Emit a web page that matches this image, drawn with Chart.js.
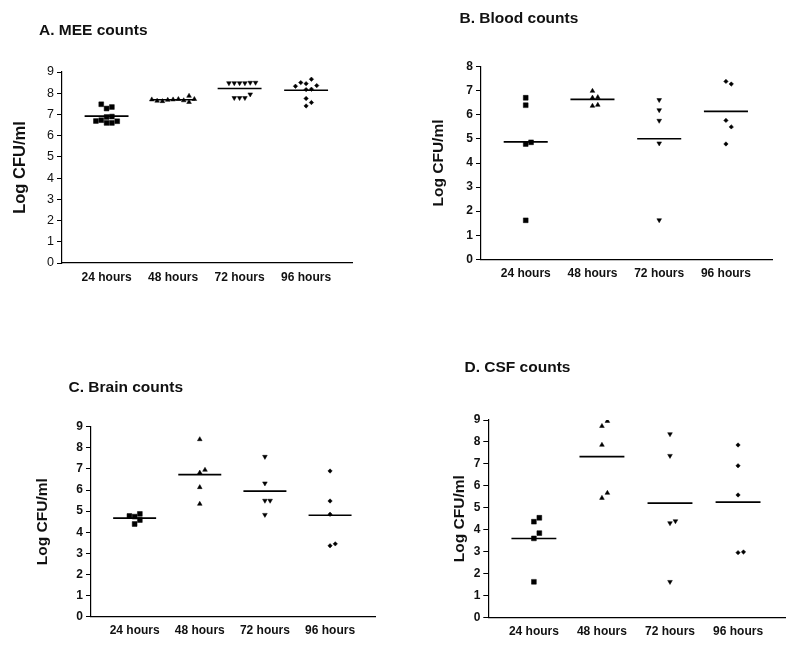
<!DOCTYPE html>
<html lang="en">
<head>
    <meta charset="UTF-8">
    <title>Log CFU/ml counts</title>
    <script src="https://cdn.jsdelivr.net/npm/chart.js"></script>
    <style>
        html, body { margin: 0; padding: 0; background: #fff; }
        .stage { position: relative; width: 800px; height: 645px; }
        .stage canvas { position: absolute; left: 0; top: 0; }
    </style>
</head>
<body>
    <div class="stage">
        <canvas id="meeChart" width="800" height="645"></canvas>
        <canvas id="bloodChart" width="800" height="645"></canvas>
        <canvas id="brainChart" width="800" height="645"></canvas>
        <canvas id="csfChart" width="800" height="645"></canvas>
    </div>

    <script>
        // Data (log CFU/ml per animal)
        const categories = ['24 hours', '48 hours', '72 hours', '96 hours'];

        const meeValues = [
            [7.28, 6.88, 6.60, 7.35, 6.60, 7.48, 6.90, 6.73, 6.68, 6.69],
            [7.70, 7.72, 7.68, 7.66, 7.62, 7.58, 7.64, 7.87, 7.72, 7.70],
            [8.48, 8.48, 8.48, 8.50, 8.48, 8.50, 7.78, 7.78, 7.78, 7.95],
            [8.45, 8.17, 7.75, 7.40, 8.66, 8.19, 7.56, 8.50, 8.36, 8.33]
        ];
        const bloodValues = [
            [4.79, 4.86, 6.71, 6.40, 1.62],
            [6.71, 6.99, 6.73, 6.37, 6.41],
            [6.62, 6.20, 5.76, 4.82, 1.63],
            [7.39, 7.28, 5.77, 5.50, 4.79]
        ];
        const brainValues = [
            [4.74, 4.87, 4.77, 4.58, 4.39],
            [6.82, 6.95, 8.40, 6.13, 5.34],
            [7.58, 6.32, 5.50, 5.50, 4.83],
            [6.90, 5.48, 4.85, 3.36, 3.45]
        ];
        const csfValues = [
            [4.36, 4.54, 3.60, 3.84, 1.62],
            [8.72, 8.95, 7.86, 5.44, 5.67],
            [8.36, 7.37, 4.30, 4.39, 1.62],
            [7.86, 6.91, 5.58, 2.95, 2.98]
        ];

        const panelTitles = ['A. MEE counts', 'B. Blood counts', 'C. Brain counts', 'D. CSF counts'];
        const yMax = [9, 8, 9, 9];
        const yAxisTitle = 'Log CFU/ml';

        const FONT = "'Liberation Sans', Arial, Helvetica, sans-serif";
        const markerStyles = [
            { pointStyle: 'rect', radius: 3.4, rotation: 0 },
            { pointStyle: 'triangle', radius: 2.7, rotation: 0 },
            { pointStyle: 'triangle', radius: 2.7, rotation: 180 },
            { pointStyle: 'rectRot', radius: 2.2, rotation: 0 }
        ];

        // spread points sideways when they would overlap (column scatter)
        function spread(values, center) {
            const step = 0.08, tol = 0.27;
            const order = [0, 1, -1, 2, -2, 3, -3, 4, -4, 5, -5, 6, -6];
            const placed = [];
            return values.map(v => {
                let slot = 0;
                for (const o of order) {
                    if (!placed.some(p => p.o === o && Math.abs(p.v - v) < tol)) { slot = o; break; }
                }
                placed.push({ o: slot, v: v });
                return { x: center + slot * step, y: v };
            });
        }

        function mean(arr) {
            return arr.reduce((a, b) => a + b, 0) / arr.length;
        }

        const panelTitlePlugin = {
            id: 'panelTitle',
            afterDraw(chart, args, opts) {
                const ctx = chart.ctx;
                ctx.save();
                ctx.fillStyle = '#111';
                ctx.font = 'bold ' + opts.size + 'px ' + FONT;
                ctx.textBaseline = 'middle';
                ctx.textAlign = 'left';
                ctx.fillText(opts.text, opts.x, opts.y);
                ctx.restore();
            }
        };

        function makePanel(canvasId, groups, idx, box) {
            const datasets = groups.map((vals, i) => ({
                type: 'scatter',
                data: spread(vals, i + 1),
                pointStyle: markerStyles[i].pointStyle,
                pointRadius: markerStyles[i].radius,
                pointRotation: markerStyles[i].rotation,
                backgroundColor: '#000',
                borderColor: '#000',
                borderWidth: 0.5
            }));

            // mean bars
            const meanPts = [];
            groups.forEach((vals, i) => {
                const m = mean(vals);
                meanPts.push({ x: i + 1 - 0.33, y: m }, { x: i + 1 + 0.33, y: m }, { x: i + 1.5, y: null });
            });
            datasets.push({
                type: 'line',
                data: meanPts,
                borderColor: '#000',
                borderWidth: 1.6,
                pointRadius: 0,
                spanGaps: false,
                fill: false
            });

            const yTitleOffset = box.yTitleSize * 0.6;
            const padLeft = box.yTitleX - yTitleOffset;

            new Chart(document.getElementById(canvasId), {
                type: 'scatter',
                data: { datasets: datasets },
                plugins: [panelTitlePlugin],
                options: {
                    responsive: false,
                    animation: false,
                    events: [],
                    layout: {
                        padding: {
                            left: padLeft,
                            right: 800 - box.right,
                            top: box.top,
                            bottom: 645 - box.bottom - 24
                        }
                    },
                    plugins: {
                        legend: { display: false },
                        tooltip: { enabled: false },
                        panelTitle: { text: panelTitles[idx], x: box.titleX, y: box.titleY, size: 15.5 }
                    },
                    scales: {
                        x: {
                            type: 'linear',
                            min: 0.33,
                            max: 4.69,
                            afterFit: s => { s.height = 24; },
                            afterBuildTicks: s => { s.ticks = categories.map((c, i) => ({ value: i + 1 })); },
                            grid: { display: true, drawOnChartArea: false, drawTicks: false },
                            border: { display: true, color: '#000', width: 1.2 },
                            ticks: {
                                autoSkip: false,
                                maxRotation: 0,
                                padding: 7,
                                color: '#111',
                                font: { family: FONT, size: 12, weight: 'bold' },
                                callback: v => categories[Math.round(v) - 1] || ''
                            }
                        },
                        y: {
                            type: 'linear',
                            min: 0,
                            max: yMax[idx],
                            afterFit: s => { s.width = box.left - padLeft; },
                            grid: { display: true, drawOnChartArea: false, drawTicks: true, tickLength: 5, color: '#000', lineWidth: 1 },
                            border: { display: true, color: '#000', width: 1.2 },
                            ticks: {
                                stepSize: 1,
                                padding: 3,
                                color: '#111',
                                font: { family: FONT, size: box.tickSize, weight: box.tickWeight }
                            },
                            title: {
                                display: true,
                                text: yAxisTitle,
                                color: '#111',
                                padding: { top: 0, bottom: 0 },
                                font: { family: FONT, size: box.yTitleSize, weight: 'bold', lineHeight: 1.2 }
                            }
                        }
                    }
                }
            });
        }

        makePanel('meeChart', meeValues, 0, {
            left: 62, right: 352, top: 72, bottom: 263,
            yTitleX: 20.5, yTitleSize: 16.5, tickSize: 12.5, tickWeight: 'normal',
            titleX: 39, titleY: 30.5
        });
        makePanel('bloodChart', bloodValues, 1, {
            left: 481, right: 772, top: 66.7, bottom: 259.3,
            yTitleX: 439, yTitleSize: 15.5, tickSize: 12, tickWeight: 'bold',
            titleX: 459.5, titleY: 19
        });
        makePanel('brainChart', brainValues, 2, {
            left: 91, right: 375, top: 426.7, bottom: 616.7,
            yTitleX: 42.5, yTitleSize: 15.5, tickSize: 12, tickWeight: 'bold',
            titleX: 68.5, titleY: 387.5
        });
        makePanel('csfChart', csfValues, 3, {
            left: 488.3, right: 785, top: 420, bottom: 617.3,
            yTitleX: 460, yTitleSize: 15.5, tickSize: 12, tickWeight: 'bold',
            titleX: 464.5, titleY: 367.5
        });
    </script>
</body>
</html>
